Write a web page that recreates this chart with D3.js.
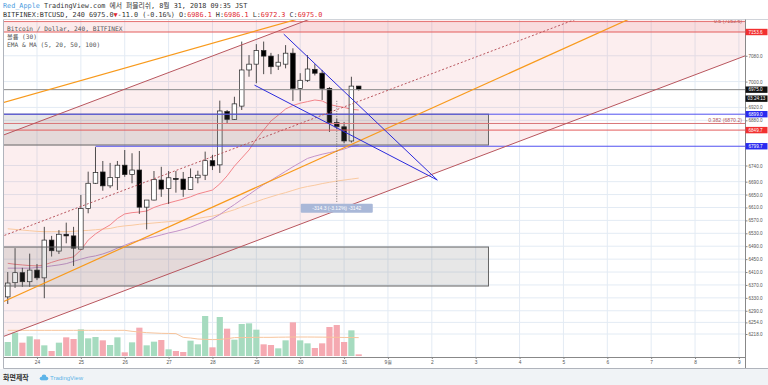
<!DOCTYPE html>
<html>
<head>
<meta charset="utf-8">
<script src="https://cdn.jsdelivr.net/npm/d3@7"></script>
<style>
  body { margin: 0; background: #fff; }
  svg { display: block; }
</style>
</head>
<body>
<div id="chart"></div>
<script>
// ---- data (4h bars, BTCUSD Bitfinex) ----
var firstBar = Date.UTC(2018, 7, 23, 8);   // 23 Aug 08:00
var HOUR = 3600 * 1000;

var opens  = [6333,6377,6408,6380,6416,6392,6509,6475,6527,6522,6481,6607,6685,6720,6677,6703,6741,6712,6726,6611,6633,6695,6669,6700,6698,6666,6702,6710,6755,6742,6907,6883,6924,7036,7054,7096,7079,7048,7054,7088,6979,7004,7038,7026,6979,6873,6860,6816,6986.1];
var highs  = [6410,6484,6423,6467,6435,6550,6522,6540,6563,6550,6649,6721,6797,6754,6748,6754,6788,6778,6785,6633,6723,6736,6723,6723,6720,6731,6724,6783,6773,6941,6912,6953,7124,7082,7116,7124,7089,7085,7113,7103,7026,7082,7054,7036,6983,6885,6875,7015,6986.1];
var lows   = [6311,6361,6364,6364,6385,6329,6458,6466,6499,6429,6480,6592,6683,6662,6670,6664,6705,6685,6590,6542,6632,6643,6621,6656,6643,6665,6685,6695,6726,6717,6871,6881,6912,7015,6995,7023,7023,7036,7041,6940,6940,6999,7019,6943,6844,6853,6809,6811,6972.3];
var closes = [6376,6408,6380,6416,6392,6509,6476,6527,6522,6484,6607,6685,6718,6677,6703,6741,6712,6726,6611,6633,6697,6667,6702,6697,6666,6703,6710,6755,6739,6909,6883,6931,7036,7054,7096,7079,7046,7060,7088,6979,7004,7039,7026,6979,6873,6860,6816,6986,6975.0];

var volumes = [2100,3500,2000,2950,2500,1600,750,2000,2800,2550,4000,2650,2850,2350,1650,2800,550,2050,4250,1600,2150,2400,1000,750,600,2300,1750,6000,1300,5850,4100,2450,4800,4900,3950,1750,1650,1150,2350,5050,2350,1900,1200,1900,4350,4650,2100,3850,250];
var volumeMA = [3850,3850,3850,3850,3850,3850,3850,3850,3850,3850,3850,3850,3850,3850,3850,3850,3850,3700,3600,3500,3450,3400,3380,3360,2800,2700,2550,2500,2460,2480,2600,2760,2760,2780,2800,2800,2800,2820,2830,2850,2850,2850,2840,2830,2820,2800,2780,2770,2760];

var ma20  = [6437,6434,6432,6430,6429,6432,6440,6447,6452,6457,6478,6509,6528,6543,6556,6576,6590,6594,6596,6599,6610,6618,6624,6630,6636,6643,6652,6658,6664,6683,6708,6738,6763,6788,6822,6850,6878,6896,6915,6926,6933,6938,6943,6940,6929,6924,6920,6914,6912];
var ma50  = [6422,6422,6422,6422,6424,6426,6429,6432,6436,6443,6450,6456,6460,6466,6474,6484,6493,6502,6508,6514,6519,6525,6531,6536,6542,6549,6558,6567,6575,6588,6604,6619,6635,6650,6666,6681,6694,6708,6722,6736,6749,6762,6769,6775,6780,6785,6791,6799,6804];
var ma100 = [6544,6542,6540,6538,6536,6535,6535,6535,6535,6536,6538,6539,6541,6543,6545,6550,6553,6555,6558,6560,6562,6564,6566,6568,6570,6573,6576,6580,6583,6589,6596,6603,6612,6620,6628,6636,6643,6650,6656,6663,6670,6675,6679,6684,6688,6692,6695,6698,6701];

var priceTicks = [7080, 7000, 6920, 6880, 6740, 6690, 6650, 6610, 6570, 6530, 6490, 6450, 6410, 6370, 6330, 6290, 6254, 6218];
var dayLabels  = ["24","25","26","27","28","29","30","31","9월","2","3","4","5","6","7","8","9"];

// price markers on the axis
var markPrices = [7153.6, 6975.0, 6899.0, 6849.7, 6799.7];
var countdown = "03:24:13";

// drawings: [hours from 24 Aug 00:00, price]
var base = Date.UTC(2018, 7, 24);
var orangeUpper = [[-26, 6923], [154, 7212]];
var orangeLower = [[-26, 6299], [362, 7291]];
var channelTop  = [[-26, 6818], [395, 7720]];
var channelBot  = [[-26, 6194], [395, 7096]];
var wedgeA = [[135, 7147], [219, 6695]];
var wedgeB = [[119, 6989], [219, 6695]];
var boxUpper = [[-30, 6899], [247, 6803.5]];
var boxLower = [[-30, 6487.5], [247, 6366.7]];
var fibLevels = [7186, 7153.6, 6870.2, 6849.7];
var measure = { bar: 45, from: 6940.3, to: 6626, text: "-314.3 (-3.12%) -3142" };

// ---- layout ----
var W = 768, H = 385;
var paneLeft = 4, paneRight = 745, paneTop = 19.5, paneBottom = 357;

var svg = d3.select("#chart").append("svg")
  .attr("width", W)
  .attr("height", H);

var mono = "'DejaVu Sans Mono', 'Noto Sans CJK KR', monospace";
var sans = "'Liberation Sans', Arial, sans-serif";

// footer
svg.append("rect").attr("x", 0).attr("y", 369).attr("width", W).attr("height", H - 369).attr("fill", "#f0f3f6");

var xScale = d3.scaleUtc()
  .domain([new Date(Date.UTC(2018, 7, 23, 5, 57)), new Date(Date.UTC(2018, 8, 9, 3, 20))])
  .range([paneLeft, paneRight]);

var yScale = d3.scaleLinear()
  .domain([6143.7, 7193.9])
  .range([358, 19]);

var volScale = d3.scaleLinear()
  .domain([0, 6000])
  .range([356, 316]);

function barX(i) { return xScale(new Date(firstBar + i * 4 * HOUR)); }
function hx(h) { return xScale(new Date(base + h * HOUR)); }

var dayTicks = d3.utcDay.range(new Date(Date.UTC(2018, 7, 24)), new Date(Date.UTC(2018, 8, 10)));

// clip for the pane
svg.append("clipPath").attr("id", "paneClip")
  .append("rect").attr("x", paneLeft).attr("y", paneTop).attr("width", paneRight - paneLeft).attr("height", paneBottom - paneTop);

var pane = svg.append("g").attr("clip-path", "url(#paneClip)");

// grid
pane.selectAll(".hgrid").data(priceTicks).enter().append("line")
  .attr("x1", paneLeft).attr("x2", paneRight)
  .attr("y1", d => yScale(d)).attr("y2", d => yScale(d))
  .attr("stroke", "#e3ebf4").attr("stroke-width", 1);
pane.selectAll(".vgrid").data(dayTicks).enter().append("line")
  .attr("x1", d => xScale(d)).attr("x2", d => xScale(d))
  .attr("y1", paneTop).attr("y2", paneBottom)
  .attr("stroke", "#e3ebf4").attr("stroke-width", 1);

// channel fill
var chanPts = [channelTop[0], channelTop[1], channelBot[1], channelBot[0]];
pane.append("path")
  .attr("d", "M" + chanPts.map(p => hx(p[0]) + "," + yScale(p[1])).join("L") + "Z")
  .attr("fill", "rgba(230, 90, 100, 0.1)");

// fib band at top
pane.append("rect")
  .attr("x", paneLeft).attr("width", paneRight - paneLeft)
  .attr("y", yScale(fibLevels[0])).attr("height", yScale(fibLevels[1]) - yScale(fibLevels[0]))
  .attr("fill", "rgba(230, 90, 100, 0.12)");

// volume
pane.selectAll(".vol").data(volumes).enter().append("rect")
  .attr("x", (d, i) => barX(i) - 3.1)
  .attr("width", 6.2)
  .attr("y", d => volScale(d))
  .attr("height", d => volScale(0) - volScale(d))
  .attr("fill", (d, i) => closes[i] >= opens[i] ? "#a6dbbf" : "#f5a9b1");

var volLine = d3.line().x((d, i) => barX(i)).y(d => volScale(d));
pane.append("path").attr("d", volLine(volumeMA))
  .attr("fill", "none").attr("stroke", "#f7c49c").attr("stroke-width", 1);

// moving averages
var maLine = d3.line().x((d, i) => barX(i)).y(d => yScale(d));
pane.append("path").attr("d", maLine(ma100)).attr("fill", "none").attr("stroke", "#f9c9a0").attr("stroke-width", 1);
pane.append("path").attr("d", maLine(ma50)).attr("fill", "none").attr("stroke", "#c393c9").attr("stroke-width", 1);
pane.append("path").attr("d", maLine(ma20)).attr("fill", "none").attr("stroke", "#f2848a").attr("stroke-width", 1);

// candles
var candles = pane.selectAll(".candle").data(opens).enter().append("g");
candles.append("line")
  .attr("x1", (d, i) => barX(i)).attr("x2", (d, i) => barX(i))
  .attr("y1", (d, i) => yScale(highs[i])).attr("y2", (d, i) => yScale(lows[i]))
  .attr("stroke", "#222").attr("stroke-width", 0.8);
candles.append("rect")
  .attr("x", (d, i) => barX(i) - 2.3)
  .attr("width", 4.6)
  .attr("y", (d, i) => yScale(Math.max(opens[i], closes[i])))
  .attr("height", (d, i) => Math.max(0.8, Math.abs(yScale(opens[i]) - yScale(closes[i]))))
  .attr("fill", (d, i) => closes[i] >= opens[i] ? "#fff" : "#000")
  .attr("stroke", "#222").attr("stroke-width", 0.7);

// boxes
[boxUpper, boxLower].forEach(function(b) {
  pane.append("rect")
    .attr("x", hx(b[0][0])).attr("width", hx(b[1][0]) - hx(b[0][0]))
    .attr("y", yScale(b[0][1])).attr("height", yScale(b[1][1]) - yScale(b[0][1]))
    .attr("fill", "rgba(110, 110, 110, 0.17)")
    .attr("stroke", "#666").attr("stroke-width", 1);
});

// horizontal levels
function hline(price, color, x0) {
  pane.append("line")
    .attr("x1", x0 === undefined ? paneLeft : x0).attr("x2", paneRight)
    .attr("y1", yScale(price)).attr("y2", yScale(price))
    .attr("stroke", color).attr("stroke-width", 1);
}
hline(fibLevels[0], "#e57373");
hline(fibLevels[1], "#e35d5d");
hline(fibLevels[2], "#d9777a");
hline(fibLevels[3], "#e35d5d");
hline(markPrices[1], "#8a8a8a");
hline(markPrices[2], "#5050f0");
hline(markPrices[4], "#5050f0", barX(12));

pane.append("text")
  .attr("x", paneRight - 3).attr("y", yScale(fibLevels[2]) - 1.5)
  .attr("text-anchor", "end")
  .attr("font-family", sans).attr("font-size", 5.2)
  .attr("fill", "#b5575c")
  .text("0.382 (6870.2)");
pane.append("text")
  .attr("x", paneRight - 3).attr("y", yScale(fibLevels[0]) + 1.5)
  .attr("text-anchor", "end")
  .attr("font-family", sans).attr("font-size", 5.2)
  .attr("fill", "#b5575c")
  .text("0.5 (7153.6)");

// trend lines
function seg(pts, color, width, dash) {
  var p = pane.append("line")
    .attr("x1", hx(pts[0][0])).attr("y1", yScale(pts[0][1]))
    .attr("x2", hx(pts[1][0])).attr("y2", yScale(pts[1][1]))
    .attr("stroke", color).attr("stroke-width", width);
  if (dash) p.attr("stroke-dasharray", dash);
}
seg(channelTop, "#b8565e", 1);
seg(channelBot, "#b8565e", 1);
var mid = [[channelTop[0][0], (channelTop[0][1] + channelBot[0][1]) / 2],
           [channelTop[1][0], (channelTop[1][1] + channelBot[1][1]) / 2]];
seg(mid, "#b8565e", 1, "2,2");
seg(orangeUpper, "#f89a1c", 1.2);
seg(orangeLower, "#f89a1c", 1.2);
seg(wedgeA, "#2b2bdc", 1);
seg(wedgeB, "#2b2bdc", 1);

// price range measure
var mx = barX(measure.bar);
pane.append("line")
  .attr("x1", mx).attr("x2", mx)
  .attr("y1", yScale(measure.from)).attr("y2", yScale(measure.to))
  .attr("stroke", "#555").attr("stroke-width", 0.8).attr("stroke-dasharray", "1,1.5");
pane.append("rect")
  .attr("x", mx - 36).attr("y", yScale(measure.to) + 1.5)
  .attr("width", 72).attr("height", 9).attr("rx", 1)
  .attr("fill", "#a9b8d8");
pane.append("text")
  .attr("x", mx).attr("y", yScale(measure.to) + 7.8)
  .attr("text-anchor", "middle")
  .attr("font-family", sans).attr("font-size", 5)
  .attr("fill", "#fff")
  .text(measure.text);

// legends inside pane
var legend = svg.append("g").attr("font-family", mono).attr("font-size", 6.2).attr("fill", "#555");
legend.append("text").attr("x", 7).attr("y", 31).text("Bitcoin / Dollar, 240, BITFINEX");
legend.append("text").attr("x", 7).attr("y", 39).text("볼륨 (30)");
legend.append("text").attr("x", 7).attr("y", 46.5).text("EMA & MA (5, 20, 50, 100)");

// frame
svg.append("line").attr("x1", 3.5).attr("x2", 3.5).attr("y1", paneTop).attr("y2", 368.5).attr("stroke", "#b0b4bc");
svg.append("line").attr("x1", 3.5).attr("x2", W).attr("y1", 368.5).attr("y2", 368.5).attr("stroke", "#b0b4bc");
svg.append("line").attr("x1", 3.5).attr("x2", W).attr("y1", paneTop).attr("y2", paneTop).attr("stroke", "#d0d4da");

// axes
var yAxis = d3.axisRight(yScale).tickValues(priceTicks).tickSize(2.5).tickFormat(d3.format(".1f"));
var gy = svg.append("g").attr("transform", "translate(" + paneRight + ",0)").call(yAxis);
gy.select(".domain").attr("stroke", "#888").attr("d", "M0.5," + paneTop + "V368");
gy.selectAll(".tick line").attr("stroke", "#888");
gy.selectAll(".tick text").attr("x", 3.5).attr("font-family", sans).attr("font-size", 4.6).attr("fill", "#555");

var xAxis = d3.axisBottom(xScale).tickValues(dayTicks).tickSize(2)
  .tickFormat((d, i) => dayLabels[i]);
var gx = svg.append("g").attr("transform", "translate(0," + paneBottom + ")").call(xAxis);
gx.select(".domain").attr("stroke", "#888").attr("d", "M" + paneLeft + ",0.5H" + paneRight);
gx.selectAll(".tick line").attr("stroke", "#888");
gx.selectAll(".tick text").attr("y", 4).attr("font-family", sans).attr("font-size", 4.8).attr("fill", "#555");

// axis marker labels
var markColors = ["#f23030", "#111", "#2a2af0", "#f23030", "#2a2af0"];
var marks = svg.append("g");
markPrices.forEach(function(p, i) {
  var y = yScale(p);
  marks.append("rect").attr("x", paneRight + 0.5).attr("y", y - 3.2).attr("width", 22).attr("height", 6.4).attr("fill", markColors[i]);
  marks.append("text").attr("x", paneRight + 3.5).attr("y", y + 1.7)
    .attr("font-family", sans).attr("font-size", 4.6).attr("fill", "#fff")
    .text(p.toFixed(1));
});
var cy = yScale(markPrices[1]) + 9;
marks.append("rect").attr("x", paneRight + 0.5).attr("y", cy - 3.2).attr("width", 22).attr("height", 6.4).attr("fill", "#111");
marks.append("text").attr("x", paneRight + 2.5).attr("y", cy + 1.7)
  .attr("font-family", sans).attr("font-size", 4.6).attr("fill", "#fff").text(countdown);

// header
var h1 = svg.append("text").attr("x", 3).attr("y", 8).attr("font-family", mono).attr("font-size", 6.8).attr("fill", "#333");
h1.append("tspan").attr("fill", "#4a9be0").text("Red_Apple");
h1.append("tspan").text(" TradingView.com 에서 퍼블리쉬, 8월 31, 2018 09:35 JST");

var h2 = svg.append("text").attr("x", 3).attr("y", 17).attr("font-family", mono).attr("font-size", 6.8).attr("fill", "#333");
h2.append("tspan").text("BITFINEX:BTCUSD, 240 6975.0");
h2.append("tspan").attr("fill", "#e0262f").text("▼");
h2.append("tspan").text("-11.0 (-0.16%) O:");
h2.append("tspan").attr("fill", "#e0262f").text("6986.1");
h2.append("tspan").text(" H:");
h2.append("tspan").attr("fill", "#e0262f").text("6986.1");
h2.append("tspan").text(" L:");
h2.append("tspan").attr("fill", "#e0262f").text("6972.3");
h2.append("tspan").text(" C:");
h2.append("tspan").attr("fill", "#e0262f").text("6975.0");

// footer text and logo
svg.append("text").attr("x", 3).attr("y", 380).attr("font-family", "'Noto Sans CJK KR', sans-serif")
  .attr("font-size", 7).attr("font-weight", "bold").attr("fill", "#333").text("화면제작");
var logo = svg.append("g").attr("fill", "#5db4e8");
logo.append("circle").attr("cx", 41.5).attr("cy", 378.5).attr("r", 1.8);
logo.append("circle").attr("cx", 44).attr("cy", 376.8).attr("r", 2.3);
logo.append("circle").attr("cx", 46.5).attr("cy", 378.5).attr("r", 1.8);
logo.append("rect").attr("x", 41.5).attr("y", 378).attr("width", 5).attr("height", 2.3);
svg.append("text").attr("x", 50).attr("y", 380).attr("font-family", sans)
  .attr("font-size", 6).attr("fill", "#5db4e8").text("TradingView");
</script>
</body>
</html>
